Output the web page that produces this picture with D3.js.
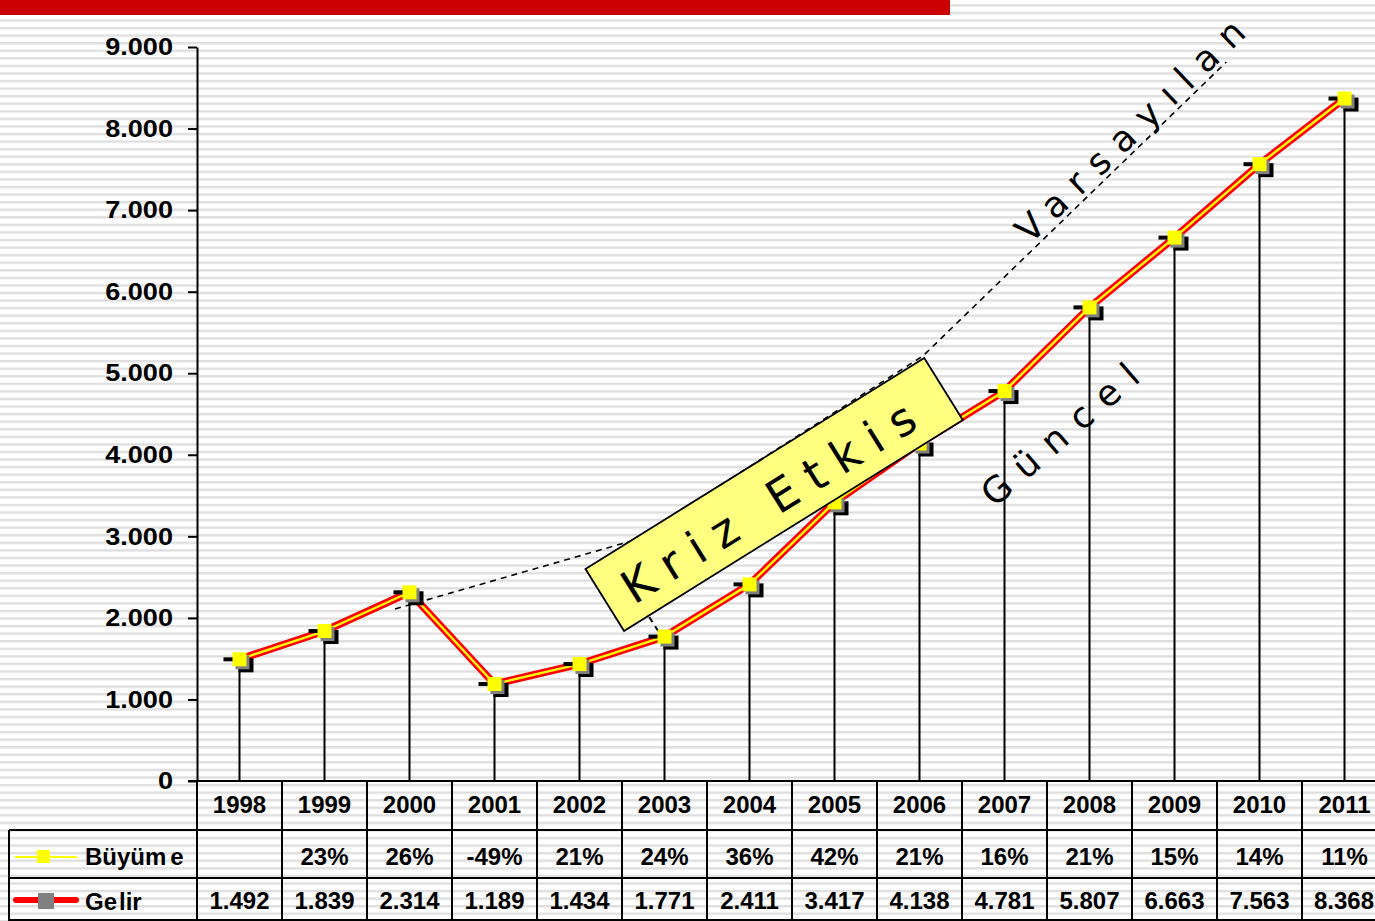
<!DOCTYPE html>
<html>
<head>
<meta charset="utf-8">
<script src="https://cdn.jsdelivr.net/npm/d3@7"></script>
<style>
  body { margin: 0; background: #fff; }
  svg { display: block; }
  text { font-family: "Liberation Sans", Arial, sans-serif; }
</style>
</head>
<body>
<svg id="chart" width="1375" height="921"></svg>
<script>
// ---- data ----
const years  = [1998, 1999, 2000, 2001, 2002, 2003, 2004, 2005, 2006, 2007, 2008, 2009, 2010, 2011];
const gelir  = [1492, 1839, 2314, 1189, 1434, 1771, 2411, 3417, 4138, 4781, 5807, 6663, 7563, 8368];
const buyume = [null, 23, 26, -49, 21, 24, 36, 42, 21, 16, 21, 15, 14, 11];
const yTicks = [0, 1000, 2000, 3000, 4000, 5000, 6000, 7000, 8000, 9000];
const seriesNames = ["Büyüme", "Gelir"];

// annotation anchors, in (year, value) space
const trendPoints  = [[1999.83, 2109], [2002.65, 2955], [2006.04, 5211], [2009.61, 8816]];
const crisisLink   = [[2002.82, 2011], [2003.03, 1667]];
const crisisBox    = [2004.29, 3513];
const crisisLabel  = "Kriz Etkis";
const trendLabel   = ["Varsayılan", 2008.58, 7860];
const actualLabel  = ["Güncel", 2007.75, 4132];

// ---- layout ----
const W = 1375, H = 921;
const plotLeft = 197, colW = 85.0, axisY = 781, topY = 47;
const svg = d3.select("#chart");

const x = d3.scaleBand().domain(years).range([plotLeft, plotLeft + colW * years.length]).paddingInner(0).paddingOuter(0);
const cx = yr => x(yr) + x.bandwidth() / 2;
const xc = d3.scaleLinear().domain([years[0], years[years.length - 1]]).range([cx(years[0]), cx(years[years.length - 1])]);
const y = d3.scaleLinear().domain([0, 9000]).range([axisY, topY]);

const trFmt = d3.formatLocale({ decimal: ",", thousands: ".", grouping: [3], currency: ["", ""] }).format(",d");

// ---- striped background ----
const defs = svg.append("defs");
const pat = defs.append("pattern").attr("id", "stripes").attr("patternUnits", "userSpaceOnUse")
  .attr("x", 0).attr("y", 19.3).attr("width", W).attr("height", 7.57);
pat.append("rect").attr("width", W).attr("height", 7.57).attr("fill", "#ffffff");
pat.append("rect").attr("width", W).attr("height", 2.4).attr("fill", "#dfdfdf");
svg.append("rect").attr("width", W).attr("height", H).attr("fill", "url(#stripes)");

// red bar along the top
svg.append("rect").attr("x", 0).attr("y", 0).attr("width", 950).attr("height", 15).attr("fill", "#cc0000");

const pts = years.map((yr, i) => ({ yr, v: gelir[i], x: cx(yr), y: y(gelir[i]) }));

// drop lines
svg.append("g").selectAll("line").data(pts).join("line")
  .attr("x1", d => d.x).attr("x2", d => d.x)
  .attr("y1", d => d.y).attr("y2", axisY)
  .attr("stroke", "#000").attr("stroke-width", 2);

// dashed trend ("Varsayılan") and link to the crisis box
const lineGen = d3.line().x(d => xc(d[0])).y(d => y(d[1]));
svg.append("path").attr("d", lineGen(trendPoints)).attr("fill", "none")
  .attr("stroke", "#000").attr("stroke-width", 1.6).attr("stroke-dasharray", "6,5");
svg.append("path").attr("d", lineGen(crisisLink)).attr("fill", "none")
  .attr("stroke", "#000").attr("stroke-width", 2).attr("stroke-dasharray", "6,5");

// series line: red with a thin yellow core
const serLine = d3.line().x(d => d.x).y(d => d.y);
svg.append("path").attr("d", serLine(pts)).attr("fill", "none")
  .attr("stroke", "#ff0000").attr("stroke-width", 7.5).attr("stroke-linejoin", "round");
svg.append("path").attr("d", serLine(pts)).attr("fill", "none")
  .attr("stroke", "#ffff00").attr("stroke-width", 2.4).attr("stroke-linejoin", "round");

// markers
const mk = svg.append("g").selectAll("g").data(pts).join("g")
  .attr("transform", d => `translate(${d.x},${d.y})`);
mk.append("rect").attr("x", -16).attr("y", -2).attr("width", 10).attr("height", 4).attr("fill", "#000");
mk.append("rect").attr("x", -1).attr("y", -1).attr("width", 15).attr("height", 14).attr("fill", "#000");
mk.append("rect").attr("x", -4).attr("y", -4).attr("width", 14).attr("height", 14).attr("fill", "#808080");
mk.append("rect").attr("x", -7).attr("y", -7).attr("width", 14).attr("height", 14).attr("fill", "#ffff00");

// crisis box
const boxG = svg.append("g")
  .attr("transform", `translate(${xc(crisisBox[0])},${y(crisisBox[1])}) rotate(-31.9)`);
boxG.append("rect").attr("x", -199.5).attr("y", -36.5).attr("width", 399).attr("height", 73)
  .attr("fill", "#ffff80").attr("stroke", "#000").attr("stroke-width", 1.8);
boxG.append("text").attr("x", -9 + 7).attr("y", 20)
  .attr("text-anchor", "middle")
  .style("font-family", "'DejaVu Sans', Verdana, sans-serif").style("font-size", "46px")
  .style("letter-spacing", "14px").text(crisisLabel);

// rotated labels
function rotLabel(lbl, ang, size, ls) {
  svg.append("text")
    .attr("transform", `translate(${xc(lbl[1])},${y(lbl[2])}) rotate(${ang})`)
    .attr("x", ls / 2).attr("text-anchor", "middle")
    .style("font-family", "'DejaVu Sans', Verdana, sans-serif").style("font-size", size + "px")
    .style("letter-spacing", ls + "px").text(lbl[0]);
}
rotLabel(trendLabel, -44, 36, 13);
rotLabel(actualLabel, -41, 36, 14);

// ---- y axis ----
const yAxis = d3.axisLeft(y).tickValues(yTicks).tickSize(9).tickSizeOuter(0).tickPadding(15).tickFormat(trFmt);
const ya = svg.append("g").attr("transform", `translate(${plotLeft},0)`).call(yAxis);
ya.select(".domain").attr("stroke", "#000").attr("stroke-width", 2);
ya.selectAll(".tick line").attr("stroke", "#000").attr("stroke-width", 2);
ya.selectAll(".tick text")
  .attr("x", -24 / 1.13).attr("transform", "scale(1.13,1)")
  .attr("fill", "#000").style("font-size", "24px").style("font-weight", "bold")
  .style("font-family", "'Liberation Sans', Arial, sans-serif");

// ---- data table ----
const tableRight = plotLeft + colW * years.length;
const g = svg.append("g").attr("stroke", "#000").attr("stroke-width", 2);
g.append("line").attr("x1", 188).attr("x2", tableRight).attr("y1", axisY).attr("y2", axisY);
g.append("line").attr("x1", 9).attr("x2", tableRight).attr("y1", 830).attr("y2", 830);
g.append("line").attr("x1", 9).attr("x2", tableRight).attr("y1", 878).attr("y2", 878);
g.append("line").attr("x1", 9).attr("x2", tableRight).attr("y1", 920).attr("y2", 920);
g.append("line").attr("x1", 9).attr("x2", 9).attr("y1", 830).attr("y2", 921);
g.selectAll(".col").data(years).join("line")
  .attr("x1", d => x(d)).attr("x2", d => x(d)).attr("y1", axisY).attr("y2", 921);
g.append("line").attr("x1", tableRight).attr("x2", tableRight).attr("y1", axisY).attr("y2", 921);

const tt = svg.append("g").style("font-size", "24px").style("font-weight", "bold").attr("fill", "#000");
tt.selectAll(".yr").data(years).join("text")
  .attr("x", d => cx(d)).attr("y", 813).attr("text-anchor", "middle").text(d => d);
tt.selectAll(".gr").data(years.map((yr, i) => [yr, buyume[i]]).filter(d => d[1] !== null)).join("text")
  .attr("x", d => cx(d[0])).attr("y", 864.5).attr("text-anchor", "middle").text(d => d[1] + "%");
tt.selectAll(".gv").data(pts).join("text")
  .attr("x", d => Math.min(d.x, W - 31)).attr("y", 908.5).attr("text-anchor", "middle").text(d => trFmt(d.v));

// legend keys
svg.append("line").attr("x1", 15).attr("x2", 77).attr("y1", 857).attr("y2", 857)
  .attr("stroke", "#ffff00").attr("stroke-width", 2);
svg.append("rect").attr("x", 37).attr("y", 850).attr("width", 13).attr("height", 13).attr("fill", "#ffff00");
svg.append("line").attr("x1", 16).attr("x2", 76).attr("y1", 900).attr("y2", 900)
  .attr("stroke", "#ff0000").attr("stroke-width", 6).attr("stroke-linecap", "round");
svg.append("rect").attr("x", 38).attr("y", 893).attr("width", 16).attr("height", 16).attr("fill", "#808080");

const l1 = tt.append("text").attr("x", 85).attr("y", 865);
l1.append("tspan").text(seriesNames[0].slice(0, -1));
l1.append("tspan").attr("dx", 4).text(seriesNames[0].slice(-1));
const l2 = tt.append("text").attr("x", 85).attr("y", 909.5);
l2.append("tspan").text(seriesNames[1].slice(0, 2));
l2.append("tspan").attr("dx", 2).text(seriesNames[1].slice(2));
</script>
</body>
</html>
